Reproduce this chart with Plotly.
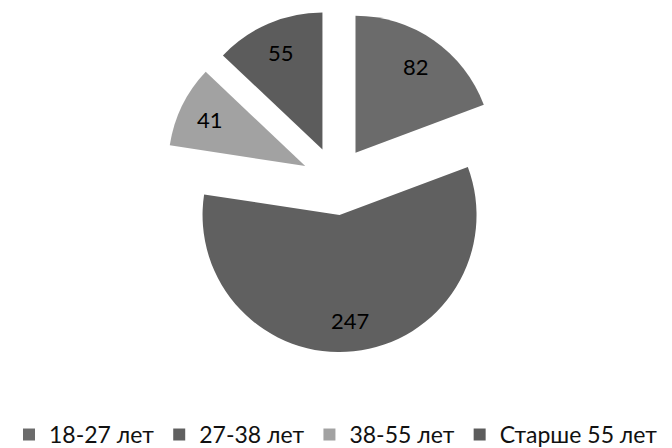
import math
import plotly.graph_objects as go

# Age groups and respondent counts
groups = ["18-27 лет", "27-38 лет", "38-55 лет", "Старше 55 лет"]
counts = [82, 247, 41, 55]
slice_colors = ["#6b6b6b", "#606060", "#a2a2a2", "#5c5c5c"]

FONT = "Lato, 'Noto Sans', 'Open Sans', sans-serif"
W, H = 672, 448
PULL = 0.25
DOMAIN_X = [0.0, 1.0]
DOMAIN_Y = [0.2137, 0.9782]
LABEL_R = 0.77  # label distance from each slice's vertex, in radii

fig = go.Figure(
    go.Pie(
        labels=groups,
        values=counts,
        sort=False,
        direction="clockwise",
        rotation=0,
        pull=[PULL] * len(counts),
        marker=dict(colors=slice_colors, line=dict(width=0)),
        textinfo="none",
        domain=dict(x=DOMAIN_X, y=DOMAIN_Y),
        hoverinfo="label+value",
    )
)

# Value labels placed along each slice's mid-angle, using the same radius
# rule the pie trace uses (half of the smaller domain side / (1 + pull)).
box_w = W * (DOMAIN_X[1] - DOMAIN_X[0])
box_h = H * (DOMAIN_Y[1] - DOMAIN_Y[0])
r_px = min(box_w, box_h) / 2 / (1 + PULL)
cx_px = W * (DOMAIN_X[0] + DOMAIN_X[1]) / 2
cy_px = H * (DOMAIN_Y[0] + DOMAIN_Y[1]) / 2  # measured from the bottom
total = sum(counts)
start = 0.0
for v in counts:
    mid = (start + v / 2) / total * 2 * math.pi
    start += v
    dist = r_px * (PULL + LABEL_R)
    lx = cx_px + dist * math.sin(mid)
    ly = cy_px + dist * math.cos(mid)
    fig.add_annotation(
        x=lx / W, y=ly / H, xref="paper", yref="paper",
        text=str(v), showarrow=False,
        font=dict(family=FONT, size=22, color="black"),
        xanchor="center", yanchor="middle",
    )

fig.update_layout(
    width=W,
    height=H,
    margin=dict(l=0, r=0, t=0, b=0, autoexpand=False),
    paper_bgcolor="white",
    plot_bgcolor="white",
    font=dict(family=FONT, size=23, color="#111111"),
    showlegend=True,
    legend=dict(
        orientation="h",
        x=0.5,
        xanchor="center",
        y=0.03,
        yanchor="middle",
        font=dict(family=FONT, size=23, color="#111111"),
        traceorder="normal",
    ),
)

fig.write_html("out.html")
